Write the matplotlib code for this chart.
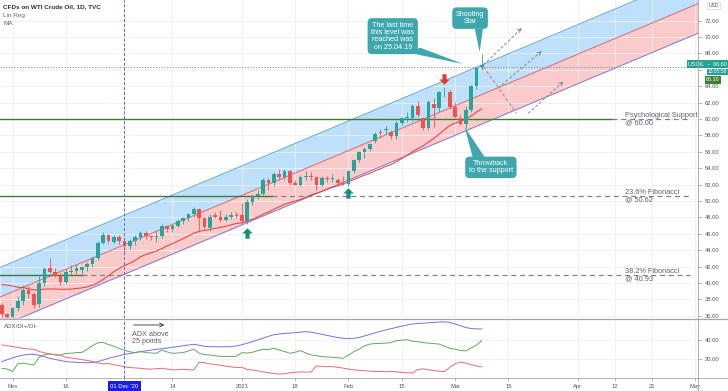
import numpy as np
import pandas as pd
import matplotlib.pyplot as plt
from matplotlib.path import Path
from matplotlib.patches import Polygon
from matplotlib.lines import Line2D
from matplotlib.transforms import blended_transform_factory

plt.rcParams['font.family'] = ['Liberation Sans', 'DejaVu Sans']

# ---- data: daily candles 29 Oct 2020 .. 08 Mar 2021 (bar 0 = 02 Nov 2020) ----
first_bar = -2
opens = [37.3, 36.2, 35.9, 36.9, 37.8, 39.2, 38.6, 37.4, 40.0, 41.8,
         41.4, 40.9, 40.1, 41.4, 41.5, 41.6, 41.9, 42.3, 43.1, 44.9,
         45.9, 45.0, 45.6, 45.1, 44.5, 45.1, 45.6, 46.1, 45.7, 45.6,
         45.7, 46.9, 46.6, 47.0, 47.5, 47.9, 48.4, 49.0, 47.9, 46.7,
         48.3, 48.1, 47.7, 48.1, 48.3, 48.3, 47.5, 49.9, 50.6, 50.9,
         52.5, 52.2, 53.3, 52.9, 53.7, 52.2, 52.0, 52.9, 53.0, 52.9,
         52.0, 52.8, 52.7, 52.6, 52.2, 52.1, 53.6, 55.0, 56.0, 56.4,
         57.3, 58.4, 58.7, 58.4, 57.9, 59.5, 60.1, 60.1, 61.6, 60.1,
         58.9, 61.8, 61.3, 63.25, 63.3, 61.5, 60.1, 59.4, 61.1, 64.0,
         66.3]
highs = [37.6, 36.4, 37.1, 38.4, 39.8, 39.6, 38.9, 40.8, 41.9, 43.1,
         41.8, 41.2, 41.7, 42.2, 42.3, 42.0, 42.5, 43.2, 45.1, 46.2,
         46.0, 45.8, 45.9, 45.3, 45.4, 45.9, 46.4, 46.3, 45.9, 46.3,
         47.2, 47.1, 47.3, 47.8, 48.0, 48.5, 49.3, 49.2, 48.0, 48.4,
         48.6, 48.9, 48.4, 48.6, 48.6, 49.8, 50.2, 50.9, 51.3, 52.8,
         52.8, 53.5, 53.9, 53.9, 53.8, 52.5, 53.2, 53.6, 53.5, 53.0,
         53.0, 53.1, 53.3, 52.8, 53.0, 53.8, 55.1, 56.1, 56.6, 57.1,
         58.4, 58.8, 59.2, 58.7, 59.7, 60.3, 60.9, 61.8, 62.2, 60.2,
         62.3, 62.6, 63.4, 63.9, 63.5, 62.1, 60.5, 61.6, 64.2, 66.4,
         67.9]
lows = [35.9, 34.9, 33.7, 36.6, 37.3, 38.2, 36.9, 37.1, 39.6, 41.2,
        40.7, 39.8, 39.9, 41.0, 41.1, 40.9, 41.5, 41.9, 42.8, 44.7,
        44.9, 44.9, 44.8, 43.8, 44.1, 44.6, 45.3, 45.4, 45.2, 45.0,
        45.5, 46.2, 46.2, 46.8, 47.2, 47.6, 48.0, 46.2, 46.6, 46.3,
        47.9, 47.4, 47.6, 47.8, 47.9, 47.2, 47.2, 49.5, 50.3, 50.7,
        51.3, 51.8, 52.6, 52.6, 51.9, 51.9, 51.8, 52.6, 52.6, 51.4,
        51.8, 52.3, 52.3, 51.8, 51.9, 51.8, 53.4, 54.7, 55.2, 56.1,
        57.1, 57.7, 58.2, 57.5, 57.6, 59.3, 59.6, 59.8, 60.3, 58.6,
        58.7, 59.0, 60.9, 62.7, 61.2, 60.1, 59.3, 58.9, 60.9, 63.7,
        66.0]
closes = [36.2, 35.9, 36.9, 37.8, 39.2, 38.6, 37.3, 40.0, 41.7, 41.4,
          40.9, 40.1, 41.4, 41.5, 41.8, 41.9, 42.3, 43.1, 44.9, 45.9,
          45.1, 45.6, 45.1, 44.5, 45.1, 45.6, 46.1, 45.7, 45.6, 45.7,
          46.9, 46.6, 47.0, 47.5, 47.9, 48.4, 49.0, 47.9, 46.8, 48.1,
          48.1, 47.7, 48.0, 48.3, 48.2, 47.5, 49.9, 50.6, 50.9, 52.5,
          52.2, 53.3, 52.9, 53.7, 52.2, 52.0, 52.9, 53.0, 52.9, 52.0,
          52.8, 52.7, 52.7, 52.2, 52.1, 53.6, 55.0, 56.0, 56.4, 57.0,
          58.2, 58.3, 58.8, 57.9, 59.5, 60.1, 60.2, 61.6, 60.5, 58.9,
          62.1, 61.3, 63.3, 63.35, 61.5, 60.2, 59.4, 61.1, 64.0, 66.2,
          66.6]
# October closes, only used to warm up the 20-day MA
prior_closes = [38.72, 37.05, 39.22, 40.67, 39.95, 41.19, 40.60, 39.43, 40.20, 41.04,
                40.96, 40.88, 41.06, 41.46, 40.03, 40.64, 39.85, 38.56, 39.57, 37.39]

# ADX / DI+ / DI- (14)
adx = [17.6, 19.5, 21.5, 23.0, 24.3, 25.0, 25.1, 24.0, 22.6, 21.0,
       19.8, 18.8, 17.6, 17.2, 16.9, 16.6, 16.5, 16.6, 17.6, 19.2,
       21.0, 22.4, 23.6, 24.9, 25.8, 26.8, 27.8, 28.6, 29.4, 30.2,
       30.8, 31.4, 32.2, 33.0, 33.8, 34.6, 35.3, 34.4, 33.2, 32.9,
       32.8, 32.7, 32.8, 32.9, 33.6, 34.8, 36.4, 38.0, 39.8, 41.6,
       43.4, 45.0, 45.8, 46.3, 46.7, 47.2, 47.7, 48.2, 47.6, 46.6,
       45.4, 44.4, 43.2, 42.2, 41.4, 41.2, 41.4, 42.2, 43.8, 45.4,
       47.0, 48.5, 50.0, 51.2, 52.6, 53.8, 55.0, 56.0, 56.6, 56.8,
       57.2, 57.6, 58.0, 58.2, 57.6, 56.0, 54.2, 52.4, 51.4, 51.0,
       51.0]
di_plus = [10.8, 10.0, 7.5, 15.5, 16.0, 15.2, 14.2, 22.0, 24.8, 25.4,
           24.6, 24.2, 26.0, 26.2, 26.8, 27.0, 30.2, 34.0, 36.8, 37.3,
           35.0, 33.4, 31.0, 29.2, 27.6, 26.8, 27.8, 27.0, 26.4, 26.1,
           29.5, 27.4, 26.1, 26.4, 26.8, 28.6, 30.2, 26.2, 24.8, 24.4,
           23.6, 23.0, 22.8, 22.7, 23.2, 26.8, 26.4, 27.2, 28.8, 30.2,
           29.8, 31.3, 29.4, 28.0, 26.1, 27.2, 28.8, 26.4, 24.4, 23.6,
           22.7, 22.4, 22.0, 21.6, 21.0, 24.2, 27.8, 30.2, 33.6, 35.5,
           36.0, 36.2, 36.5, 37.0, 39.0, 39.5, 40.0, 38.5, 37.9, 37.0,
           36.5, 36.0, 35.5, 33.4, 31.2, 30.3, 29.0, 28.6, 31.5, 34.5,
           39.0]
di_minus = [34.6, 34.0, 33.0, 32.2, 31.0, 30.6, 30.2, 28.0, 26.6, 25.4,
            24.6, 24.2, 22.0, 21.4, 20.6, 19.6, 18.8, 17.8, 16.2, 15.4,
            15.6, 14.4, 13.6, 12.2, 11.6, 11.2, 10.8, 10.2, 9.9, 10.4,
            10.8, 10.0, 9.2, 9.4, 9.8, 9.4, 9.0, 16.9, 16.5, 15.3,
            14.7, 13.9, 13.0, 12.2, 11.6, 11.8, 9.6, 9.0, 8.2, 7.0,
            6.4, 5.5, 5.0, 5.2, 6.2, 6.8, 7.1, 7.0, 7.1, 13.2,
            12.8, 12.4, 12.5, 11.8, 11.0, 10.0, 9.3, 8.7, 8.3, 7.9,
            7.4, 7.6, 7.2, 7.8, 7.1, 6.6, 6.2, 6.0, 9.6, 10.3,
            9.2, 8.6, 7.9, 7.5, 11.8, 15.6, 17.2, 16.0, 14.6, 13.1,
            12.2]

# time axis (bar positions of the date labels)
tick_bars = [0, 10, 21, 30, 43, 53, 63, 73, 83, 93, 106, 113, 120, 128]
tick_labels = ['Nov', '16', "01 Dec '20", '14', '2021', '18', 'Feb', '15', 'Mar',
               '15', 'Apr', '12', '21', 'May']
crosshair_bar = 21
price_ticks = list(range(36, 74, 2))

# linear regression channel (mid line anchors) and its half width
channel_bars = [0, 88]
channel_mid = [38.93, 62.98]
channel_dev = 3.6

# horizontal levels: price, end of solid part, label
levels = [60.00, 50.62, 40.93]
level_solid_end = [112.5, 48.7, 13.0]
level_texts = ['Psychological Support\n@ 60.00', '23.6% Fibonacci\n@ 50.62',
               '38.2% Fibonacci\n@ 40.93']
level_text_bar = 114.8
level_dash_end = 127

last_price = 66.60
ray_price = 66.30

up_arrows = [(44, 46.05), (63, 50.95)]
down_arrows = [(81, 64.9)]

# scenario sketch lines (start bar, start price, end bar, end price)
bull_paths = [(88.3, 66.59, 95.5, 71.07), (91.1, 63.79, 99.2, 68.26),
              (96.7, 60.69, 103.3, 64.55)]
bear_path = (88.3, 66.38, 94.5, 60.69)

# callouts: text, box centre, tail (base1, base2, tip)
callouts = [
    ('The last time\nthis level was\nreached was\non 25.04.19', (71.3, 70.1),
     [(74.5, 68.05), (76.4, 68.7), (84.5, 66.71)]),
    ('Shooting\nStar', (85.8, 72.3),
     [(86.7, 71.0), (88.2, 71.0), (87.6, 68.17)]),
    ('Throwback\nto the support', (89.7, 54.1),
     [(86.3, 55.3), (88.6, 55.3), (84.8, 59.0)]),
]

# ---- styling ----
GREEN = '#26a69a'
RED = '#ef5350'
TEAL = '#3ea6ad'
GRID = '#eef0f4'
TXT = '#5d606b'
W, H = 728, 391

fig = plt.figure(figsize=(W / 100, H / 100), dpi=100)
ax = fig.add_axes([0, 1 - 318 / H, 698 / W, 318 / H])
ax2 = fig.add_axes([0, 13 / H, 698 / W, 59 / H])

xlo, xhi = -2.344, 128.54
bars = np.arange(first_bar, first_bar + len(closes))

for a in (ax, ax2):
    a.set_xlim(xlo, xhi)
    a.set_xticks(tick_bars)
    a.grid(True, color=GRID, lw=0.6, zorder=0)
    for s in a.spines.values():
        s.set_visible(False)
    a.set_facecolor('white')

ax.set_ylim(35.73, 74.51)
ax.set_yticks(price_ticks)
# the 66.00 label sits under the last-price tag on the scale
ax.set_yticklabels(['' if v == 66 else f'{v:.2f}' for v in price_ticks])
ax.yaxis.tick_right()
ax.tick_params(axis='y', length=3, width=0.5, color='#9a9da5', labelsize=4.2,
               labelcolor='#555', pad=2)
ax.tick_params(axis='x', length=0, labelbottom=False)

# channel
fit = np.polyfit(channel_bars, channel_mid, 1)
xs = np.array([xlo, xhi])
mid = np.polyval(fit, xs)
ax.fill_between(xs, mid, mid + channel_dev, color='#bfe0fb', lw=0, zorder=1)
ax.fill_between(xs, mid - channel_dev, mid, color='#fbcaca', lw=0, zorder=1)
ax.plot(xs, mid + channel_dev, color='#5aa2e6', lw=0.7, zorder=2)
ax.plot(xs, mid, color='#e4606a', lw=0.7, zorder=2)
ax.plot(xs, mid - channel_dev, color='#7b7fd4', lw=0.7, zorder=2)

# horizontal levels
for lv, se, tx in zip(levels, level_solid_end, level_texts):
    ax.plot([xlo, se], [lv, lv], color='#3f7a3a', lw=1.0, zorder=3)
    if se < level_dash_end - 5:
        ax.plot([se, level_dash_end], [lv, lv], color='#80838c', lw=0.9,
                ls=(0, (4, 3)), zorder=3)
    ax.text(level_text_bar, lv, tx, fontsize=5.3, color=TXT, va='center',
            ha='left', linespacing=1.0, zorder=6)

ax.axhline(ray_price, color='#8d9099', lw=0.8, ls=(0, (1, 1.5)), zorder=3)

# MA 20
ma = pd.Series(prior_closes + closes).rolling(20).mean().to_numpy()[len(prior_closes):]
ax.plot(bars, ma, color='#e53935', lw=0.7, zorder=3)

# candles
o, h, l, c = (np.array(v) for v in (opens, highs, lows, closes))
col = np.where(c >= o, GREEN, RED)
ax.vlines(bars, l, h, colors=col, lw=0.6, zorder=4)
body = np.maximum(np.abs(c - o), 0.08)
ax.bar(bars, body, bottom=np.minimum(o, c), width=0.68, color=col, lw=0, zorder=5)

# Dec 1 crosshair
for a in (ax, ax2):
    a.axvline(crosshair_bar, color='#5b5fd6', lw=0.7, ls=(0, (3, 2)), zorder=6)

# block arrows
up_path = Path([(-0.2, -0.5), (0.2, -0.5), (0.2, 0.0), (0.5, 0.0), (0.0, 0.5),
                (-0.5, 0.0), (-0.2, 0.0), (-0.2, -0.5)])
down_path = Path([(x, -y) for x, y in up_path.vertices])
for b, p in up_arrows:
    ax.plot(b, p, marker=up_path, ms=7.5, color='#1b8c7d', mec='none', zorder=7)
for b, p in down_arrows:
    ax.plot(b, p, marker=down_path, ms=7.5, color='#e53935', mec='none', zorder=7)

# scenario sketches
for x0, y0, x1, y1 in bull_paths:
    ax.plot([x0, x1], [y0, y1], color='#7d8f84', lw=0.7, ls=(0, (3, 2)), zorder=6)
    ax.annotate('', xy=(x1, y1), xytext=(x1 - 0.6, y1 - 0.34),
                arrowprops=dict(arrowstyle='->', color='#7d8f84', lw=0.7,
                                mutation_scale=6), zorder=6)
x0, y0, x1, y1 = bear_path
ax.plot([x0, x1], [y0, y1], color='#e07a8a', lw=0.8, ls=(0, (3, 2)), zorder=6)

# callouts
for txt, (cx, cy), tail in callouts:
    ax.add_patch(Polygon(tail, closed=True, fc=TEAL, ec='none', zorder=8))
    ax.text(cx, cy, txt, fontsize=5.2, color='white', ha='center', va='center',
            linespacing=1.05, zorder=9,
            bbox=dict(boxstyle='round,pad=0.5,rounding_size=0.6', fc=TEAL, ec='none'))

# price labels on the scale
tr = blended_transform_factory(ax.transAxes, ax.transData)
ax.text(727 / 698, last_price + 0.1, 'USOIL  \u2013  66.60', transform=tr, fontsize=4.0,
        color='white', ha='right', va='center', clip_on=False, zorder=10,
        bbox=dict(boxstyle='square,pad=0.2', fc='#22a290', ec='none'))
ax.text(727 / 698, last_price - 0.85, '13:05:58', transform=tr, fontsize=3.6,
        color='white', ha='right', va='center', clip_on=False, zorder=10,
        bbox=dict(boxstyle='square,pad=0.12', fc='#22a290', ec='none'))
ax.text(720 / 698, ray_price - 1.5, f'{ray_price:.2f}', transform=tr, fontsize=4.0,
        color='white', ha='right', va='center', clip_on=False, zorder=10,
        bbox=dict(boxstyle='square,pad=0.25', fc='#3f7f36', ec='none'))
fig.text(713.5 / W, 1 - 5.5 / H, 'USD', fontsize=3.6, color='#555', ha='center',
         va='center', bbox=dict(boxstyle='square,pad=0.2', fc='white', ec='#c8cad0', lw=0.4))

# legend texts
fig.text(3 / W, 1 - 7 / H, 'CFDs on WTI Crude Oil, 1D, TVC', fontsize=4.6,
         fontweight='bold', color='#333', va='center')
fig.text(3 / W, 1 - 15.5 / H, 'Lin Reg', fontsize=4.6, color='#666', va='center')
fig.text(3 / W, 1 - 23.5 / H, 'MA', fontsize=4.6, color='#666', va='center')

# ---- indicator pane ----
ax2.set_ylim(0.9, 61.1)
ax2.set_yticks([20, 40])
ax2.set_yticklabels(['20.00', '40.00'])
ax2.yaxis.tick_right()
ax2.tick_params(axis='y', length=3, width=0.5, color='#9a9da5', labelsize=4.2,
                labelcolor='#555', pad=2)
ax2.set_xticklabels(tick_labels)
ax2.tick_params(axis='x', length=2, width=0.5, color='#9a9da5', labelsize=4.2,
                labelcolor='#555', pad=2.5)
for lab, t in zip(ax2.get_xticklabels(), tick_bars):
    if t == crosshair_bar:
        lab.set_color('white')
        lab.set_bbox(dict(boxstyle='square,pad=0.5', fc='#1d1de0', ec='none'))

ax2.plot(bars, adx, color='#7472e4', lw=0.7, zorder=4)
ax2.plot(bars, di_plus, color='#63a85e', lw=0.7, zorder=4)
ax2.plot(bars, di_minus, color='#ea6a72', lw=0.7, zorder=4)

fig.text(4 / W, 1 - 327 / H, 'ADX/DI+/DI-', fontsize=4.4, color='#555', va='center')
ax2.annotate('', xy=(29.0, 55.0), xytext=(22.2, 55.0),
             arrowprops=dict(arrowstyle='->', color='#333', lw=0.6, mutation_scale=7))
ax2.text(22.4, 42.0, 'ADX above\n25 points', fontsize=5.2, color=TXT, va='center',
         ha='left', linespacing=1.05)

# pane borders
fig.add_artist(Line2D([0, 1], [1 - 318.5 / H] * 2, color='#a3a6ae', lw=0.9))
fig.add_artist(Line2D([0, 1], [13 / H] * 2, color='#a3a6ae', lw=0.6))
fig.add_artist(Line2D([698 / W] * 2, [0, 1], color='#a3a6ae', lw=0.6))

fig.savefig('out.png', dpi=100)
